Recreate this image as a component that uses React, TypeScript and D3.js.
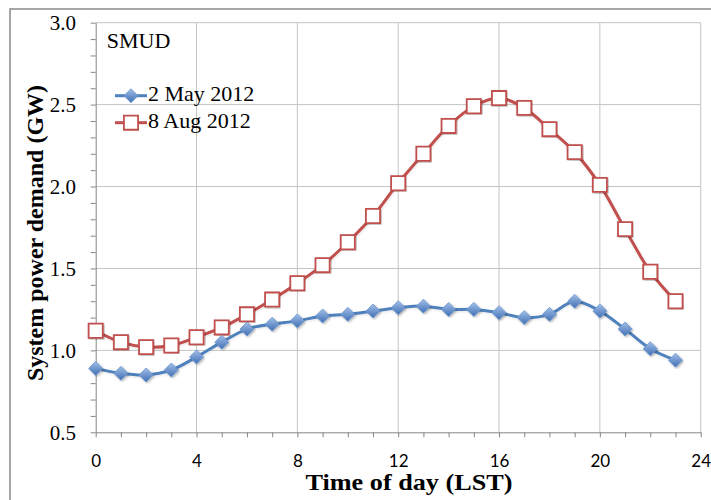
import React, { useEffect, useRef } from "react";
import * as d3 from "d3";

const hours = d3.range(0, 24);
const mayDemand = [
  0.89, 0.86, 0.85, 0.88, 0.96, 1.05, 1.13, 1.16, 1.18, 1.21, 1.22, 1.24,
  1.26, 1.27, 1.25, 1.25, 1.23, 1.2, 1.22, 1.3, 1.24, 1.13, 1.01, 0.94,
];
const augDemand = [
  1.12, 1.05, 1.02, 1.03, 1.08, 1.14, 1.22, 1.31, 1.41, 1.52, 1.66, 1.82,
  2.02, 2.2, 2.37, 2.49, 2.54, 2.48, 2.35, 2.21, 2.01, 1.74, 1.48, 1.3,
];
const xTicks = [0, 4, 8, 12, 16, 20, 24];
const yTicks = [0.5, 1.0, 1.5, 2.0, 2.5, 3.0];
const seriesNames = ["2 May 2012", "8 Aug 2012"];

const BLUE = "#4F81BD";
const RED = "#C0504D";
const SERIF = "'Liberation Serif', 'Times New Roman', serif";

const App = () => {
  const svgRef = useRef<SVGSVGElement>(null);

  useEffect(() => {
    const width = 711;
    const height = 500;
    const margin = { top: 22.7, right: 10.3, bottom: 67.7, left: 95.7 };
    const innerWidth = width - margin.left - margin.right;
    const innerHeight = height - margin.top - margin.bottom;

    const svg = d3.select(svgRef.current);
    svg.selectAll("*").remove();
    svg.attr("width", width).attr("height", height);

    const defs = svg.append("defs");
    const grad = defs
      .append("linearGradient")
      .attr("id", "blueFill")
      .attr("x1", 0)
      .attr("y1", 0)
      .attr("x2", 0)
      .attr("y2", 1);
    grad.append("stop").attr("offset", "0%").attr("stop-color", "#a3c0e8");
    grad.append("stop").attr("offset", "100%").attr("stop-color", "#3f6fb5");
    const shadow = defs.append("filter").attr("id", "shadow");
    shadow
      .append("feDropShadow")
      .attr("dx", 1.2)
      .attr("dy", 1.2)
      .attr("stdDeviation", 0.8)
      .attr("flood-color", "#000")
      .attr("flood-opacity", 0.3);
    const lineShadow = defs.append("filter").attr("id", "lineShadow");
    lineShadow
      .append("feDropShadow")
      .attr("dx", 0.5)
      .attr("dy", 1.2)
      .attr("stdDeviation", 1.2)
      .attr("flood-color", "#000")
      .attr("flood-opacity", 0.1);

    // outer chart frame
    svg
      .append("rect")
      .attr("x", 10)
      .attr("y", 9)
      .attr("width", 720)
      .attr("height", 520)
      .attr("fill", "white")
      .attr("stroke", "#8a8a8a")
      .attr("stroke-width", 1.5);

    const g = svg
      .append("g")
      .attr("transform", `translate(${margin.left},${margin.top})`);

    const x = d3.scaleLinear().domain([0, 24]).range([0, innerWidth]);
    const y = d3.scaleLinear().domain([0.5, 3.0]).range([innerHeight, 0]);

    // gridlines
    g.append("g")
      .selectAll("line")
      .data(yTicks.slice(1))
      .join("line")
      .attr("x1", 0)
      .attr("x2", innerWidth)
      .attr("y1", (d) => y(d))
      .attr("y2", (d) => y(d))
      .attr("stroke", "#c4c4c4")
      .attr("stroke-width", 1);
    g.append("g")
      .selectAll("line")
      .data(xTicks.slice(1))
      .join("line")
      .attr("x1", (d) => x(d))
      .attr("x2", (d) => x(d))
      .attr("y1", 0)
      .attr("y2", innerHeight)
      .attr("stroke", "#c4c4c4")
      .attr("stroke-width", 1);

    // axes
    const xAxis = g
      .append("g")
      .attr("transform", `translate(0,${innerHeight})`)
      .call(
        d3.axisBottom(x).tickValues(d3.range(0, 25)).tickSize(5).tickSizeOuter(0)
      );
    xAxis.select(".domain").attr("stroke", "#868686");
    xAxis.selectAll(".tick line").attr("stroke", "#868686");
    xAxis
      .selectAll(".tick text")
      .text((d: any) => (xTicks.includes(d) ? String(d) : ""))
      .attr("y", 35)
      .attr("dy", "0")
      .attr("fill", "#000")
      .style("font-family", "Lato, 'Open Sans', sans-serif")
      .style("font-size", "17px");

    const yAxis = g.append("g").call(
      d3
        .axisLeft(y)
        .tickValues(d3.range(5, 31).map((v) => v / 10))
        .tickSize(5)
        .tickSizeOuter(0)
    );
    yAxis.select(".domain").attr("stroke", "#868686");
    yAxis.selectAll(".tick line").attr("stroke", "#868686");
    yAxis
      .selectAll(".tick text")
      .text((d: any) =>
        yTicks.some((t) => Math.abs(t - d) < 1e-6) ? d3.format(".1f")(d) : ""
      )
      .attr("x", -19.7)
      .attr("fill", "#000")
      .style("font-family", SERIF)
      .style("font-size", "21px");

    // lines
    const line = d3
      .line<number>()
      .x((_, i) => x(hours[i]))
      .y((d) => y(d))
      .curve(d3.curveCatmullRom.alpha(0.5));

    const diamond = d3.symbol().type(d3.symbolDiamond2).size(125);
    const square = d3.symbol().type(d3.symbolSquare).size(200);

    g.append("path")
      .datum(augDemand)
      .attr("d", line)
      .attr("fill", "none")
      .attr("stroke", RED)
      .attr("stroke-width", 3)
      .attr("filter", "url(#lineShadow)");
    g.append("path")
      .datum(mayDemand)
      .attr("d", line)
      .attr("fill", "none")
      .attr("stroke", BLUE)
      .attr("stroke-width", 3)
      .attr("filter", "url(#lineShadow)");

    g.append("g")
      .selectAll("path")
      .data(augDemand)
      .join("path")
      .attr("d", square)
      .attr("transform", (d, i) => `translate(${x(hours[i])},${y(d)})`)
      .attr("fill", "white")
      .attr("stroke", RED)
      .attr("stroke-width", 1.8)
      .attr("filter", "url(#shadow)");
    g.append("g")
      .selectAll("path")
      .data(mayDemand)
      .join("path")
      .attr("d", diamond)
      .attr("transform", (d, i) => `translate(${x(hours[i])},${y(d)})`)
      .attr("fill", "url(#blueFill)")
      .attr("stroke", "#6a96d0")
      .attr("stroke-width", 0.8)
      .attr("filter", "url(#shadow)");

    // label
    g.append("text")
      .attr("x", 11)
      .attr("y", 25)
      .text("SMUD")
      .style("font-family", SERIF)
      .style("font-size", "22px");

    // legend
    const legend = g.append("g").attr("transform", "translate(19.3,73)");
    const legendRows = [
      { name: seriesNames[0], color: BLUE, sym: diamond, fill: "url(#blueFill)" },
      { name: seriesNames[1], color: RED, sym: square, fill: "white" },
    ];
    legendRows.forEach((r, i) => {
      const row = legend.append("g").attr("transform", `translate(0,${i * 27})`);
      row
        .append("line")
        .attr("x1", 0)
        .attr("x2", 32)
        .attr("stroke", r.color)
        .attr("stroke-width", 3);
      row
        .append("path")
        .attr("d", r.sym)
        .attr("transform", "translate(16,0)")
        .attr("fill", r.fill)
        .attr("stroke", i === 0 ? "#6a96d0" : RED)
        .attr("stroke-width", i === 0 ? 0.8 : 1.8);
      row
        .append("text")
        .attr("x", 33)
        .attr("y", 5.5)
        .text(r.name)
        .style("font-family", SERIF)
        .style("font-size", "22px");
    });

    // axis titles
    svg
      .append("text")
      .attr("x", 409)
      .attr("y", 490)
      .attr("text-anchor", "middle")
      .attr("textLength", 207)
      .attr("lengthAdjust", "spacingAndGlyphs")
      .text("Time of day (LST)")
      .style("font-family", SERIF)
      .style("font-weight", "bold")
      .style("font-size", "23px");
    svg
      .append("text")
      .attr("transform", "translate(43,233) rotate(-90)")
      .attr("text-anchor", "middle")
      .text("System power demand (GW)")
      .style("font-family", SERIF)
      .style("font-weight", "bold")
      .style("font-size", "24px");
  }, []);

  return (
    <svg
      ref={svgRef}
      style={{ position: "absolute", left: 0, top: 0 }}
    ></svg>
  );
};

export default App;
